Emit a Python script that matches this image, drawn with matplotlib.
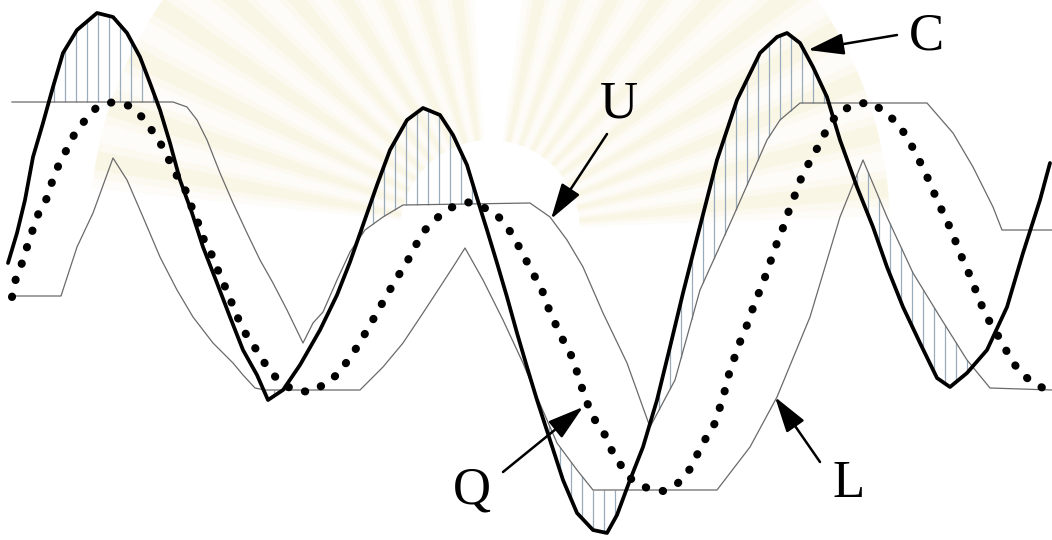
import matplotlib.pyplot as plt
import numpy as np
from matplotlib.patches import Polygon

# curves in screen-like units: x to the right, y grows downward
c_x = [8, 17, 25, 33, 43, 53, 63, 77, 97, 113, 127, 140, 150, 160, 170, 180, 192, 203, 217, 230,
       243, 257, 268, 283, 300, 320, 337, 350, 363, 377, 390, 407, 423, 440, 453, 467, 477, 487,
       497, 507, 517, 527, 537, 550, 563, 577, 593, 607, 617, 630, 643, 657, 670, 683, 697, 717,
       737, 760, 777, 787, 800, 813, 827, 840, 857, 873, 887, 903, 920, 937, 950, 967, 987, 1007,
       1023, 1040, 1050]
c_y = [263, 233, 200, 157, 123, 87, 53, 30, 13, 17, 33, 57, 83, 110, 143, 180, 213, 247, 283, 317,
       350, 375, 400, 390, 365, 330, 295, 262, 225, 185, 150, 120, 108, 115, 135, 165, 198, 230,
       263, 297, 333, 367, 400, 440, 480, 513, 530, 533, 515, 480, 447, 400, 347, 293, 238, 160,
       100, 53, 37, 33, 43, 67, 97, 140, 187, 227, 267, 307, 343, 378, 387, 373, 350, 307,
       253, 200, 163]

q_x = [12, 16, 22, 27, 33, 39, 47, 52, 59, 67, 75, 86, 97, 113, 130, 143, 153, 162, 170, 178,
       187, 192, 199, 205, 213, 219, 226, 233, 240, 248, 258, 267, 278, 293, 310, 327, 340, 350,
       360, 368, 377, 385, 400, 408, 417, 425, 437, 450, 467, 483, 497, 508, 518, 527, 535, 542,
       548, 555, 563, 572, 577, 582, 588, 595, 605, 612, 622, 632, 647, 663, 678, 690, 698, 706,
       715, 720, 725, 729, 734, 740, 747, 753, 760, 767, 772, 778, 785, 790, 797, 803, 812, 820,
       828, 838, 853, 870, 885, 897, 907, 915, 923, 930, 937, 945, 952, 958, 965, 972, 978, 985,
       993, 1002, 1010, 1020, 1033, 1047]
q_y = [297, 278, 263, 247, 229, 212, 198, 182, 164, 149, 133, 119, 107, 102, 106, 118, 132, 146, 162, 178,
       193, 208, 225, 243, 257, 273, 289, 306, 323, 338, 352, 367, 380, 390, 392, 383, 372, 357,
       343, 328, 313, 298, 273, 260, 243, 230, 218, 208, 202, 207, 215, 228, 245, 262, 277, 290,
       307, 323, 340, 357, 372, 388, 405, 420, 435, 451, 467, 480, 488, 491, 483, 469, 453, 438,
       423, 407, 390, 374, 359, 342, 325, 308, 290, 272, 257, 240, 223, 207, 190, 173, 158, 143,
       127, 113, 105, 102, 112, 123, 137, 152, 168, 183, 200, 217, 232, 248, 265, 280, 297, 313,
       328, 342, 358, 372, 383, 390]

u_x = [12, 173, 187, 197, 207, 220, 233, 247, 260, 273, 287, 303, 313, 323, 337, 350, 365, 383, 403,
       530, 550, 567, 583, 603, 627, 650, 675, 700, 733, 767, 780, 800, 927, 953, 973, 993, 1002, 1052]
u_y = [102, 102, 107, 120, 140, 173, 203, 233, 260, 283, 310, 343, 323, 312, 280, 252, 230, 217, 205,
       203, 217, 240, 267, 313, 363, 427, 380, 290, 217, 140, 120, 103, 103, 133, 167, 207, 230, 230]

l_x = [12, 61, 77, 93, 113, 127, 143, 160, 177, 193, 213, 233, 243, 255, 265, 360, 383, 403, 423,
       440, 453, 465, 483, 503, 523, 537, 557, 577, 593, 717, 750, 777, 810, 840, 863, 887, 913, 940,
       967, 990, 1052]
l_y = [296, 296, 247, 213, 158, 180, 217, 257, 290, 317, 343, 363, 375, 388, 390, 390, 367, 343, 313,
       287, 267, 248, 280, 320, 363, 397, 443, 470, 490, 490, 447, 397, 317, 217, 160, 217, 273, 317,
       360, 388, 390]

labels = ["C", "U", "Q", "L"]
label_xy = [(926, 37), (619, 104), (472, 490), (849, 484)]
arrow_tail = [(897, 35), (607, 134), (503, 472), (820, 462)]
arrow_tip = [(808, 50), (551, 219), (583, 407), (775, 397)]

fig = plt.figure(figsize=(10.52, 5.40), dpi=100)
ax = fig.add_axes([0, 0, 1, 1])
ax.set_xlim(0, 1052)
ax.set_ylim(540, 0)
ax.axis("off")

# faint, soft sunburst behind the plot
cx, cy = 490, 230
for a0 in list(range(96, 176, 8)) + list(range(4, 84, 8)):
    for half, alpha in [(4.0, 0.06), (2.6, 0.07), (1.4, 0.09)]:
        t = np.radians(np.linspace(a0 + 2 - half, a0 + 2 + half, 8))
        r0, r1 = 90, 400
        pts = [(cx + r0 * np.cos(v), cy - r0 * np.sin(v)) for v in t]
        pts += [(cx + r1 * np.cos(v), cy - r1 * np.sin(v)) for v in t[::-1]]
        ax.add_patch(Polygon(pts, closed=True, fc="#efd98a", ec="none", alpha=alpha, zorder=0))

# vertical hatching where C leaves the envelope
xs = np.arange(10, 1030, 11)
ci = np.interp(xs, c_x, c_y)
ui = np.interp(xs, u_x, u_y)
li = np.interp(xs, l_x, l_y)
above = ci < ui - 1
below = ci > li + 1
ax.vlines(xs[above], ci[above], ui[above], color="#9aabbb", lw=0.9, zorder=1)
ax.vlines(xs[below], li[below], ci[below], color="#9aabbb", lw=0.9, zorder=1)

ax.plot(u_x, u_y, color="#6a6a6a", lw=0.9, zorder=2)
ax.plot(l_x, l_y, color="#6a6a6a", lw=0.9, zorder=2)
ax.plot(q_x, q_y, color="black", lw=5.8, linestyle=(0, (0.05, 2.1)),
        dash_capstyle="round", zorder=3)
ax.plot(c_x, c_y, color="black", lw=2.7, solid_capstyle="round", solid_joinstyle="round", zorder=4)

for s, (tx, ty), tail, tip in zip(labels, label_xy, arrow_tail, arrow_tip):
    ax.text(tx, ty, s, fontsize=38, family="Liberation Serif", ha="center", va="center", zorder=6)
    ax.annotate("", xy=tip, xytext=tail,
                arrowprops=dict(arrowstyle="-|>,head_length=1.0,head_width=0.3",
                                color="black", lw=1.8, mutation_scale=22,
                                shrinkA=0, shrinkB=0), zorder=5)

fig.savefig("out.png", dpi=100)
